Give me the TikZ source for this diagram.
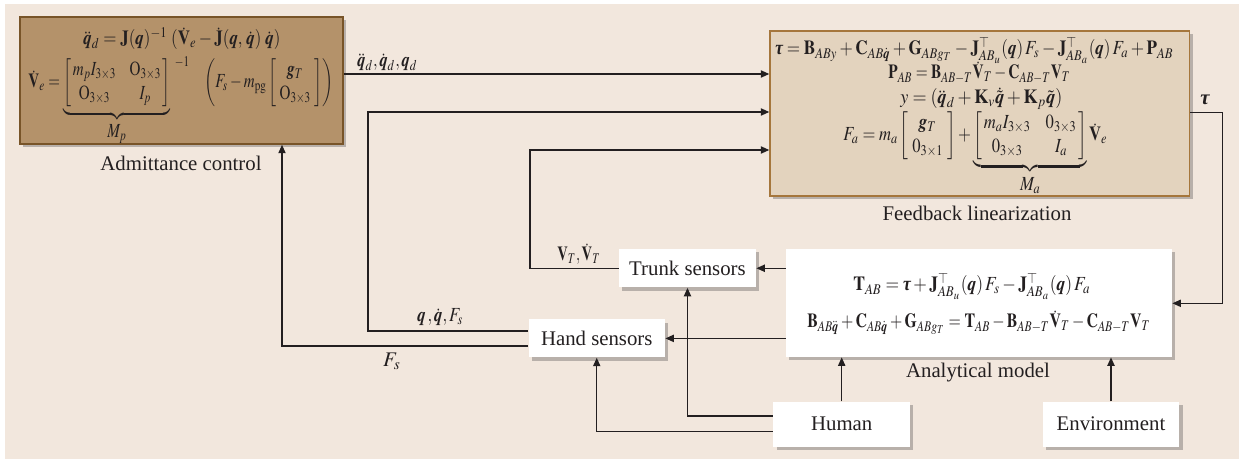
\documentclass[tikz,border=0pt]{standalone}
\usepackage{graphicx}
\usepackage{mathptmx}
\usepackage{fontspec}
\setmainfont{Liberation Serif}
\usetikzlibrary{shadows,arrows.meta}
\DeclareMathAlphabet{\mathbi}{OT1}{ptm}{b}{it}

\definecolor{bgc}{RGB}{242,231,221}
\definecolor{admfill}{RGB}{180,146,106}
\definecolor{admdraw}{RGB}{120,84,40}
\definecolor{fbfill}{RGB}{227,211,190}
\definecolor{fbdraw}{RGB}{165,118,60}
\definecolor{ink}{RGB}{35,31,32}

\newcommand{\bq}{\mathbi{q}}
\newcommand{\btau}{\mbox{\bfseries\itshape τ}}
\newcommand{\bg}{\mathbi{g}}
\newcommand{\fitw}[2]{\resizebox{#1}{\height}{#2}}
\newcommand{\twomat}[4]{\left[\begin{array}{@{\,}c@{\hspace{9pt}}c@{\,}}#1 & #2\\ #3 & #4\end{array}\right]}
\newcommand{\onemat}[2]{\left[\begin{array}{@{\;}c@{\;}}#1\\ #2\end{array}\right]}

\begin{document}
\begin{tikzpicture}[x=0.5pt,y=-0.5pt,
  every node/.style={font=\fontsize{10.4}{12}\selectfont, text=ink, inner sep=0pt},
  shad/.style={drop shadow={opacity=0.35, shadow xshift=1.6pt, shadow yshift=-1.6pt, fill=black!70}},
  admbox/.style={rectangle, fill=admfill, draw=admdraw, line width=0.8pt, shad},
  fbbox/.style={rectangle, fill=fbfill, draw=fbdraw, line width=0.7pt, shad},
  whitebox/.style={rectangle, fill=white, draw=none, shad},
  conn/.style={draw=ink, line width=0.65pt},
  arr/.style={conn, -{Triangle[length=4.2pt,width=3.6pt]}},
  eq/.style={anchor=base west, font=\fontsize{10}{12}\selectfont}
]
\fill[white] (0,0) rectangle (1239,459);
\fill[bgc] (5,4) rectangle (1239,459);
\useasboundingbox (0,0) rectangle (1239,459);

% Admittance control
\node[admbox, minimum width=161.5pt, minimum height=63.5pt] (adm) at (181.5,80.5) {};
\node[eq] (admeq1) at (83,45) {\fitw{98.5pt}{$\ddot{\bq}_d = \mathbf{J}(\bq)^{-1}\;(\dot{\mathbf{V}}_e - \dot{\mathbf{J}}(\bq,\,\dot{\bq})\;\dot{\bq})$}};
\node[eq] (admeq2) at (28,88) {\fitw{152.5pt}{$\displaystyle \dot{\mathbf V}_e = \underbrace{\twomat{m_pI_{3\times3}}{\mathrm O_{3\times3}}{\mathrm O_{3\times3}}{I_p}}_{\textstyle M_p}\rlap{\,\raisebox{10.5pt}{$\scriptstyle -1$}}\qquad\left(F_s - m_{\mathrm{pg}}\onemat{\bg_T}{\mathrm O_{3\times3}}\right)$}};
\node (admlbl) at (181,163) {Admittance control};

% Feedback linearization
\node[fbbox, minimum width=209.75pt, minimum height=82.5pt] (fb) at (979.75,113.5) {};
\node[eq] (fbeq1) at (775,55) {\fitw{199pt}{$\btau = \mathbf B_{ABy} + \mathbf C_{AB\dot{\bq}} + \mathbf G_{ABg_T} - \mathbf J^{\top}_{AB_u}(\bq)\,F_s - \mathbf J^{\top}_{AB_a}(\bq)\,F_a + \mathbf P_{AB}$}};
\node[eq] (fbeq2) at (888,79) {\fitw{91pt}{$\mathbf P_{AB} = \mathbf B_{AB-T}\dot{\mathbf V}_T - \mathbf C_{AB-T}\mathbf V_T$}};
\node[eq] (fbeq3) at (900,104) {\fitw{81pt}{$y = (\ddot{\bq}_d + \mathbf K_v\dot{\tilde{\bq}} + \mathbf K_p\tilde{\bq})$}};
\node[eq] (fbeq4) at (843,140.5) {\fitw{132pt}{$\displaystyle F_a = m_a\onemat{\bg_T}{0_{3\times1}} + \underbrace{\twomat{m_aI_{3\times3}}{0_{3\times3}}{0_{3\times3}}{I_a}}_{\textstyle M_a}\dot{\mathbf V}_e$}};
\node (fblbl) at (977,213) {Feedback linearization};

% Analytical model
\node[whitebox, minimum width=193pt, minimum height=54pt] (an) at (979,303) {};
\node[eq] (aneq1) at (853,291) {\fitw{118.5pt}{$\mathbf T_{AB} = \btau + \mathbf J^{\top}_{AB_u}(\bq)\,F_s - \mathbf J^{\top}_{AB_a}(\bq)\,F_a$}};
\node[eq] (aneq2) at (807,328) {\fitw{171.5pt}{$\mathbf B_{AB\ddot{\bq}} + \mathbf C_{AB\dot{\bq}} + \mathbf G_{ABg_T} = \mathbf T_{AB} - \mathbf B_{AB-T}\dot{\mathbf V}_T - \mathbf C_{AB-T}\mathbf V_T$}};
\node (anlbl) at (978,373) {Analytical model};

% Sensors and sources
\node[whitebox, minimum width=68.5pt, minimum height=19.25pt] (trunk) at (687.5,268.25) {Trunk sensors};
\node[whitebox, minimum width=68.25pt, minimum height=19pt] (hand) at (596.75,338.4) {Hand sensors};
\node[whitebox, minimum width=68.35pt, minimum height=22.5pt] (human) at (841.7,424.2) {Human};
\node[whitebox, minimum width=68.3pt, minimum height=22.5pt] (env) at (1111,424.2) {Environment};

% Connector labels
\node[eq] (l1) at (357,67) {\fitw{30pt}{$\ddot{\bq}_d, \dot{\bq}_d, \bq_d$}};
\node (l2) at (1205,100) {$\btau$};
\node[eq] (l3) at (557,261) {\fitw{21.5pt}{$\mathbf V_T, \dot{\mathbf V}_T$}};
\node[eq] (l4) at (417,322) {\fitw{23pt}{$\bq\,, \dot{\bq}, F_s$}};
\node (l5) at (392,361) {$F_s$};

% Connectors
\draw[arr] (adm.east |- 0,74) -- (fb.west |- 0,74);
\draw[arr] (hand.west |- 0,331) -- (368,331) -- (368,112) -- (fb.west |- 0,112);
\draw[arr] (trunk.west) -- (530,268.25) -- (530,150) -- (fb.west |- 0,150);
\draw[arr] (hand.west |- 0,346) -- (282,346) -- (adm.south -| 282,0);
\draw[arr] (fb.east |- 0,112.7) -- (1222.7,112.7) -- (1222.7,303.3) -- (an.east |- 0,303.3);
\draw[arr] (an.west |- trunk.east) -- (trunk.east);
\draw[arr] (an.west |- hand.east) -- (hand.east);
\draw[arr] (human.north) -- (human.north |- an.south);
\draw[arr] (env.north) -- (env.north |- an.south);
\draw[arr] (human.west |- 0,416) -- (trunk.south |- 0,416) -- (trunk.south);
\draw[arr] (human.west |- 0,431.3) -- (hand.south |- 0,431.3) -- (hand.south);
\end{tikzpicture}
\end{document}
